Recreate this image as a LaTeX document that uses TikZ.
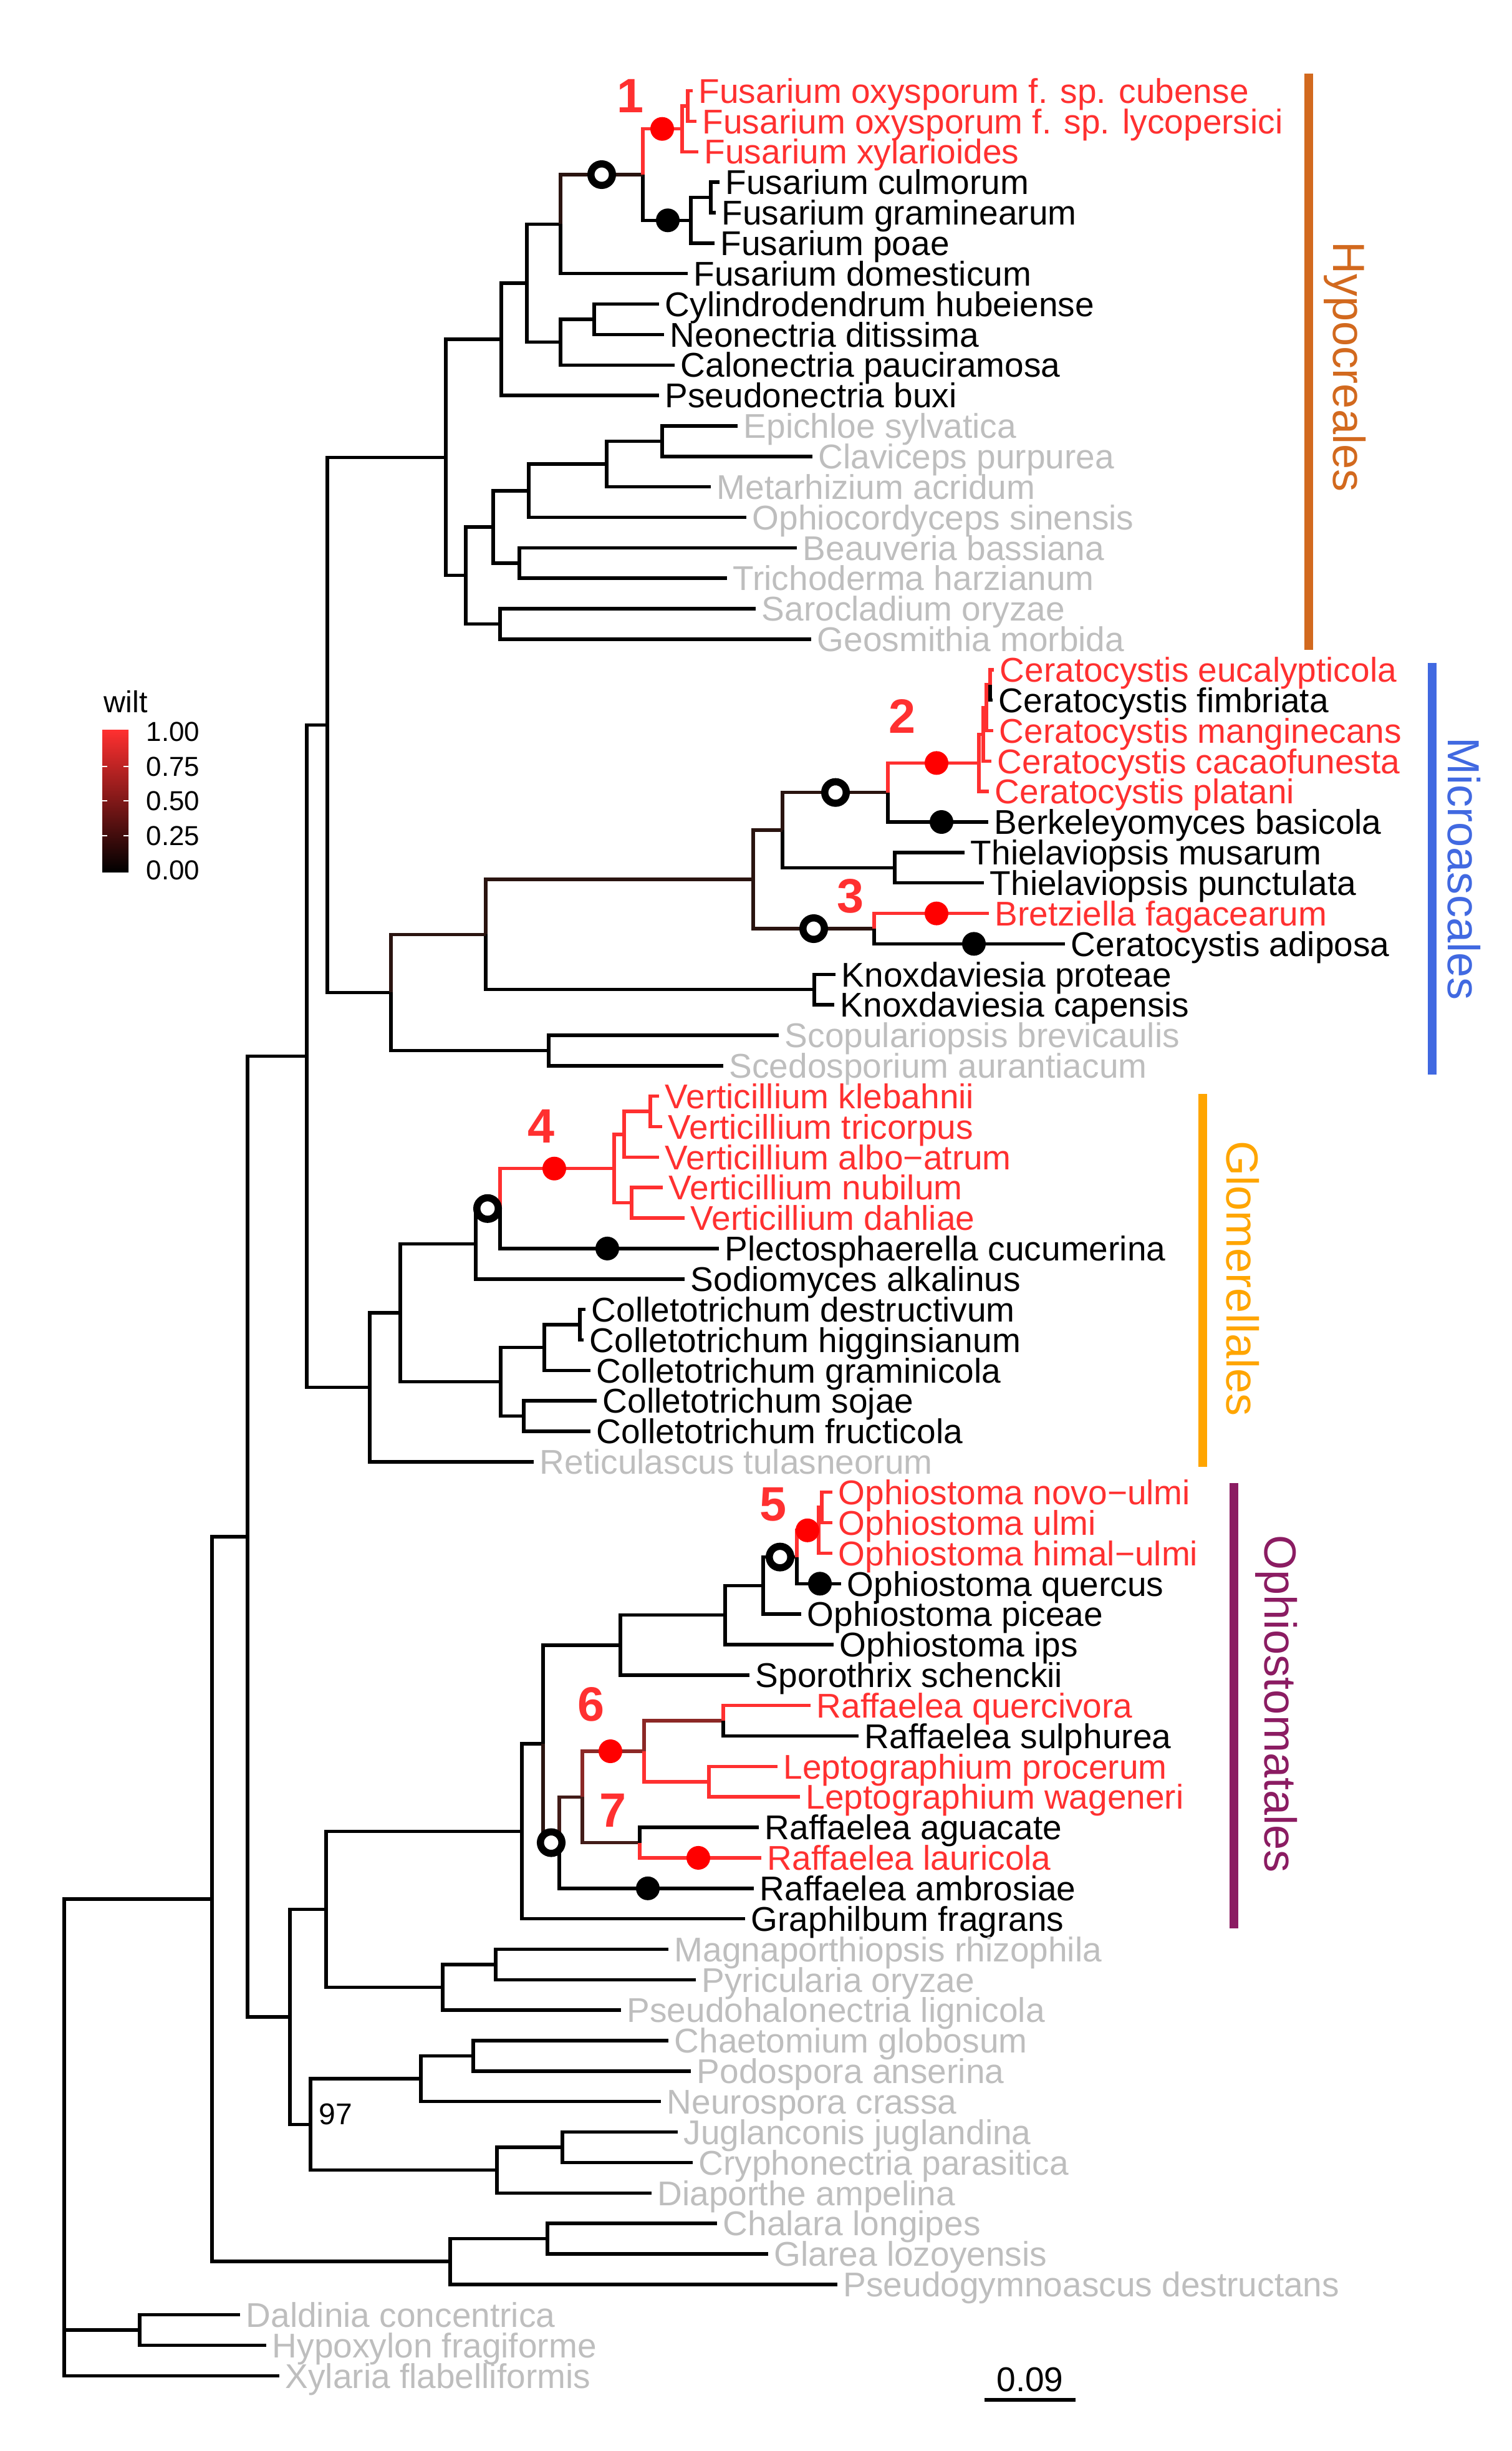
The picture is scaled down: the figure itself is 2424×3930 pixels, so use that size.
\documentclass[tikz,border=0pt]{standalone}
\usepackage{fontspec}
\setmainfont{Liberation Sans}
\definecolor{wred}{RGB}{255,48,48}
\definecolor{wdark}{RGB}{42,20,16}
\definecolor{wlow}{RGB}{66,28,24}
\definecolor{wmid}{RGB}{140,40,38}
\definecolor{wgrey}{RGB}{190,190,190}
\definecolor{hypo}{RGB}{210,105,30}
\definecolor{micro}{RGB}{65,105,225}
\definecolor{glom}{RGB}{255,165,0}
\definecolor{ophio}{RGB}{139,28,98}

\begin{document}
\begin{tikzpicture}[x=0.01cm,y=-0.01cm,line width=0.055cm]
\tikzstyle{every node}=[font=\fontsize{15.65}{18}\selectfont]
\tikzstyle{tiplab}=[anchor=west,inner xsep=0.07cm,inner ysep=0pt,text height=11.2pt,text depth=0pt]
\tikzstyle{ring}=[circle,draw=black,fill=white,line width=0.115cm,inner sep=0pt,minimum size=0.345cm]
\tikzstyle{blob}=[circle,inner sep=0pt,minimum size=0.38cm]
\tikzstyle{bignum}=[wred,font=\fontsize{22}{26}\selectfont\bfseries]
\tikzstyle{cladename}=[anchor=base,rotate=-90,font=\fontsize{20.5}{24}\selectfont]
\tikzstyle{cladebar}=[line width=0.14cm]
\tikzstyle{legtext}=[anchor=west,inner sep=0pt,font=\fontsize{12.5}{15}\selectfont,text height=8.95pt,text depth=0pt]
\useasboundingbox (0,0) rectangle (2424,3930);

% internal nodes
\coordinate (root) at (103,3408.9);
\coordinate (x0) at (103,3772.8);
\coordinate (x1) at (224,3736.1);
\coordinate (s0) at (340,3045);
\coordinate (s1) at (397,2463.8);
\coordinate (l0) at (722,3626.2);
\coordinate (l1) at (878,3589.6);
\coordinate (hmg) at (492,1693.5);
\coordinate (oms) at (465,3234);
\coordinate (hm) at (525,1162.4);
\coordinate (h0) at (715,733.4);
\coordinate (h1) at (804,544.1);
\coordinate (h2) at (845,454);
\coordinate (fall) at (899,359.4);
\coordinate (fopen) at (1031,280);
\coordinate (fox) at (1094,206.7);
\coordinate (fox2) at (1103,170.1);
\coordinate (fgr) at (1108,353.3);
\coordinate (fcg) at (1140,316.6);
\coordinate (nec) at (899,548.7);
\coordinate (nec2) at (953,512);
\coordinate (hg0) at (747,922.7);
\coordinate (hg1) at (791,844.8);
\coordinate (hg2) at (802,1000.5);
\coordinate (hg3) at (848,786.8);
\coordinate (hg4) at (833,902.8);
\coordinate (hg5) at (973,744.1);
\coordinate (hg6) at (1062,707.4);
\coordinate (m0) at (627,1591.4);
\coordinate (m1) at (779,1498.4);
\coordinate (m2) at (1208,1410);
\coordinate (m3) at (1255,1331);
\coordinate (m4) at (1402,1489);
\coordinate (m5) at (1424,1270.7);
\coordinate (cA) at (1570,1223.4);
\coordinate (cB) at (1577,1177.6);
\coordinate (cC) at (1582,1134.9);
\coordinate (cD) at (1588,1098.2);
\coordinate (thi) at (1435,1391.3);
\coordinate (knox) at (1306,1586.7);
\coordinate (msc) at (880,1684.4);
\coordinate (g0) at (593,2224.5);
\coordinate (g1) at (642,2105);
\coordinate (g2) at (763,1994.3);
\coordinate (g3) at (802,1937.8);
\coordinate (v0) at (985,1873.7);
\coordinate (v1) at (1001,1818.8);
\coordinate (v2) at (1013,1928.7);
\coordinate (v3) at (1043,1782.1);
\coordinate (c0) at (803,2215.7);
\coordinate (c1) at (873,2160.7);
\coordinate (c2) at (840,2270.6);
\coordinate (c3) at (930,2124.1);
\coordinate (om) at (523,3061.5);
\coordinate (op0) at (837,2936.4);
\coordinate (op1) at (871,2796.2);
\coordinate (op2) at (995,2637.8);
\coordinate (op3) at (1163,2589.7);
\coordinate (op4) at (1224,2542.4);
\coordinate (op5) at (1278,2496.6);
\coordinate (or1) at (1313,2453.8);
\coordinate (or2) at (1318,2417.2);
\coordinate (r0) at (897,2954.5);
\coordinate (r1) at (934,2881.3);
\coordinate (r2) at (1033,2808);
\coordinate (r3) at (1026,2954.5);
\coordinate (r4) at (1160,2759.1);
\coordinate (r5) at (1137,2856.8);
\coordinate (mg0) at (710,3186.6);
\coordinate (mg1) at (795,3149.9);
\coordinate (sd) at (498,3406.4);
\coordinate (so0) at (675,3333.1);
\coordinate (so1) at (759,3296.5);
\coordinate (dp0) at (797,3479.7);
\coordinate (dp1) at (902,3443);

% tips
\path node[tiplab,wred] (cub) at (1111,145.6) {Fusarium oxysporum f. sp. cubense};
\path node[tiplab,wred] (lyc) at (1117,194.5) {Fusarium oxysporum f. sp. lycopersici};
\path node[tiplab,wred] (xyl) at (1120,243.3) {Fusarium xylarioides};
\path node[tiplab] (cul) at (1154,292.2) {Fusarium culmorum};
\path node[tiplab] (gra) at (1148,341) {Fusarium graminearum};
\path node[tiplab] (poa) at (1146,389.9) {Fusarium poae};
\path node[tiplab] (dom) at (1103,438.7) {Fusarium domesticum};
\path node[tiplab] (cyl) at (1057,487.6) {Cylindrodendrum hubeiense};
\path node[tiplab] (neo) at (1065,536.4) {Neonectria ditissima};
\path node[tiplab] (cal) at (1082,585.3) {Calonectria pauciramosa};
\path node[tiplab] (psn) at (1057,634.1) {Pseudonectria buxi};
\path node[tiplab,wgrey] (epi) at (1183,683) {Epichloe sylvatica};
\path node[tiplab,wgrey] (cla) at (1303,731.8) {Claviceps purpurea};
\path node[tiplab,wgrey] (met) at (1140,780.7) {Metarhizium acridum};
\path node[tiplab,wgrey] (oph) at (1197,829.5) {Ophiocordyceps sinensis};
\path node[tiplab,wgrey] (bea) at (1278,878.4) {Beauveria bassiana};
\path node[tiplab,wgrey] (tri) at (1166,927.2) {Trichoderma harzianum};
\path node[tiplab,wgrey] (sar) at (1212,976.1) {Sarocladium oryzae};
\path node[tiplab,wgrey] (geo) at (1301,1024.9) {Geosmithia morbida};
\path node[tiplab,wred] (euc) at (1594,1073.8) {Ceratocystis eucalypticola};
\path node[tiplab] (fim) at (1592,1122.6) {Ceratocystis fimbriata};
\path node[tiplab,wred] (man) at (1593,1171.5) {Ceratocystis manginecans};
\path node[tiplab,wred] (cac) at (1590,1220.3) {Ceratocystis cacaofunesta};
\path node[tiplab,wred] (pla) at (1586,1269.2) {Ceratocystis platani};
\path node[tiplab] (ber) at (1585,1318) {Berkeleyomyces basicola};
\path node[tiplab] (mus) at (1547,1366.9) {Thielaviopsis musarum};
\path node[tiplab] (pun) at (1578,1415.7) {Thielaviopsis punctulata};
\path node[tiplab,wred] (bre) at (1586,1464.6) {Bretziella fagacearum};
\path node[tiplab] (adi) at (1708,1513.4) {Ceratocystis adiposa};
\path node[tiplab] (kpr) at (1340,1562.3) {Knoxdaviesia proteae};
\path node[tiplab] (kca) at (1338,1611.1) {Knoxdaviesia capensis};
\path node[tiplab,wgrey] (sco) at (1249,1660) {Scopulariopsis brevicaulis};
\path node[tiplab,wgrey] (sce) at (1160,1708.8) {Scedosporium aurantiacum};
\path node[tiplab,wred] (vkl) at (1057,1757.7) {Verticillium klebahnii};
\path node[tiplab,wred] (vtr) at (1062,1806.5) {Verticillium tricorpus};
\path node[tiplab,wred] (val) at (1057,1855.4) {Verticillium albo−atrum};
\path node[tiplab,wred] (vnu) at (1063,1904.2) {Verticillium nubilum};
\path node[tiplab,wred] (vda) at (1098,1953.1) {Verticillium dahliae};
\path node[tiplab] (ple) at (1153,2001.9) {Plectosphaerella cucumerina};
\path node[tiplab] (sod) at (1098,2050.8) {Sodiomyces alkalinus};
\path node[tiplab] (cde) at (939,2099.6) {Colletotrichum destructivum};
\path node[tiplab] (chi) at (936,2148.5) {Colletotrichum higginsianum};
\path node[tiplab] (cgr) at (947,2197.3) {Colletotrichum graminicola};
\path node[tiplab] (cso) at (957,2246.2) {Colletotrichum sojae};
\path node[tiplab] (cfr) at (947,2295) {Colletotrichum fructicola};
\path node[tiplab,wgrey] (ret) at (856,2343.9) {Reticulascus tulasneorum};
\path node[tiplab,wred] (onu) at (1335,2392.7) {Ophiostoma novo−ulmi};
\path node[tiplab,wred] (oul) at (1335,2441.6) {Ophiostoma ulmi};
\path node[tiplab,wred] (ohi) at (1335,2490.4) {Ophiostoma himal−ulmi};
\path node[tiplab] (oqu) at (1349,2539.3) {Ophiostoma quercus};
\path node[tiplab] (opi) at (1285,2588.1) {Ophiostoma piceae};
\path node[tiplab] (oip) at (1337,2637) {Ophiostoma ips};
\path node[tiplab] (ssc) at (1202,2685.8) {Sporothrix schenckii};
\path node[tiplab,wred] (rqu) at (1300,2734.7) {Raffaelea quercivora};
\path node[tiplab] (rsu) at (1377,2783.5) {Raffaelea sulphurea};
\path node[tiplab,wred] (lpr) at (1247,2832.4) {Leptographium procerum};
\path node[tiplab,wred] (lwa) at (1283,2881.2) {Leptographium wageneri};
\path node[tiplab] (rag) at (1217,2930.1) {Raffaelea aguacate};
\path node[tiplab,wred] (rla) at (1221,2978.9) {Raffaelea lauricola};
\path node[tiplab] (ram) at (1209,3027.8) {Raffaelea ambrosiae};
\path node[tiplab] (gfr) at (1195,3076.6) {Graphilbum fragrans};
\path node[tiplab,wgrey] (mrh) at (1072,3125.5) {Magnaporthiopsis rhizophila};
\path node[tiplab,wgrey] (pyr) at (1116,3174.3) {Pyricularia oryzae};
\path node[tiplab,wgrey] (phl) at (996,3223.2) {Pseudohalonectria lignicola};
\path node[tiplab,wgrey] (cgl) at (1072,3272) {Chaetomium globosum};
\path node[tiplab,wgrey] (pan) at (1108,3320.9) {Podospora anserina};
\path node[tiplab,wgrey] (ncr) at (1060,3369.7) {Neurospora crassa};
\path node[tiplab,wgrey] (jju) at (1087,3418.6) {Juglanconis juglandina};
\path node[tiplab,wgrey] (cpa) at (1111,3467.4) {Cryphonectria parasitica};
\path node[tiplab,wgrey] (dam) at (1045,3516.3) {Diaporthe ampelina};
\path node[tiplab,wgrey] (clo) at (1150,3565.1) {Chalara longipes};
\path node[tiplab,wgrey] (glo) at (1232,3614) {Glarea lozoyensis};
\path node[tiplab,wgrey] (pde) at (1343,3662.8) {Pseudogymnoascus destructans};
\path node[tiplab,wgrey] (dco) at (385,3711.7) {Daldinia concentrica};
\path node[tiplab,wgrey] (hfr) at (427,3760.5) {Hypoxylon fragiforme};
\path node[tiplab,wgrey] (xfl) at (448,3809.4) {Xylaria flabelliformis};

% branches, coloured by the child
\path[draw] (root) |- (s0) (root) |- (x0) (x0) |- (x1) (s0) |- (s1) (s0) |- (l0) (l0) |- (l1);
\path[draw] (s1) |- (hmg) (s1) |- (oms) (hmg) |- (hm) (hmg) |- (g0) (hm) |- (h0) (hm) |- (m0);
\path[draw] (h0) |- (h1) (h0) |- (hg0) (h1) |- (h2) (h2) |- (fall) (h2) |- (nec) (nec) |- (nec2);
\path[draw] (fopen) |- (fgr) (fgr) |- (fcg);
\path[draw] (hg0) |- (hg1) (hg0) |- (hg2) (hg1) |- (hg3) (hg1) |- (hg4) (hg3) |- (hg5) (hg5) |- (hg6);
\path[draw] (m0) |- (msc) (m1) |- (knox) (m3) |- (thi);
\path[draw] (g0) |- (g1) (g1) |- (g2) (g1) |- (c0) (g2) |- (g3) (c0) |- (c1) (c0) |- (c2) (c1) |- (c3);
\path[draw] (oms) |- (om) (oms) |- (sd) (om) |- (op0) (om) |- (mg0) (op0) |- (op1) (op1) |- (op2);
\path[draw] (op2) |- (op3) (op3) |- (op4) (op4) |- (op5) (mg0) |- (mg1);
\path[draw] (sd) |- (so0) (sd) |- (dp0) (so0) |- (so1) (dp0) |- (dp1);
\path[draw,wdark] (fall) |- (fopen) (m0) |- (m1) (m1) |- (m2) (m2) |- (m3) (m2) |- (m4) (m3) |- (m5) (op1) |- (r0);
\path[draw,wlow] (r0) |- (r1) (r1) |- (r3);
\path[draw,wmid] (r1) |- (r2) (r2) |- (r4);
\path[draw,wred] (fopen) |- (fox) (fox) |- (fox2) (m5) |- (cA) (cA) |- (cB) (cB) |- (cC) (cC) |- (cD);
\path[draw,wred] (g3) |- (v0) (v0) |- (v1) (v0) |- (v2) (v1) |- (v3) (op5) |- (or1) (or1) |- (or2) (r2) |- (r5);

\path[draw,wred] (fox2) |- (cub.west) (fox2) |- (lyc.west) (fox) |- (xyl.west);
\path[draw,wred] (cD) |- (euc.west) (cC) |- (man.west) (cB) |- (cac.west) (cA) |- (pla.west) (m4) |- (bre.west);
\path[draw,wred] (v3) |- (vkl.west) (v3) |- (vtr.west) (v1) |- (val.west) (v2) |- (vnu.west) (v2) |- (vda.west);
\path[draw,wred] (or2) |- (onu.west) (or2) |- (oul.west) (or1) |- (ohi.west) (r4) |- (rqu.west);
\path[draw,wred] (r5) |- (lpr.west) (r5) |- (lwa.west) (r3) |- (rla.west);
\path[draw] (fcg) |- (cul.west) (fcg) |- (gra.west) (fgr) |- (poa.west) (fall) |- (dom.west);
\path[draw] (nec2) |- (cyl.west) (nec2) |- (neo.west) (nec) |- (cal.west) (h1) |- (psn.west);
\path[draw] (hg6) |- (epi.west) (hg6) |- (cla.west) (hg5) |- (met.west) (hg3) |- (oph.west);
\path[draw] (hg4) |- (bea.west) (hg4) |- (tri.west) (hg2) |- (sar.west) (hg2) |- (geo.west);
\path[draw] (cD) |- (fim.west) (m5) |- (ber.west) (thi) |- (mus.west) (thi) |- (pun.west) (m4) |- (adi.west);
\path[draw] (knox) |- (kpr.west) (knox) |- (kca.west) (msc) |- (sco.west) (msc) |- (sce.west);
\path[draw] (g3) |- (ple.west) (g2) |- (sod.west) (c3) |- (cde.west) (c3) |- (chi.west) (c1) |- (cgr.west);
\path[draw] (c2) |- (cso.west) (c2) |- (cfr.west) (g0) |- (ret.west);
\path[draw] (op5) |- (oqu.west) (op4) |- (opi.west) (op3) |- (oip.west) (op2) |- (ssc.west);
\path[draw] (r4) |- (rsu.west) (r3) |- (rag.west) (r0) |- (ram.west) (op0) |- (gfr.west);
\path[draw] (mg1) |- (mrh.west) (mg1) |- (pyr.west) (mg0) |- (phl.west) (so1) |- (cgl.west) (so1) |- (pan.west);
\path[draw] (so0) |- (ncr.west) (dp1) |- (jju.west) (dp1) |- (cpa.west) (dp0) |- (dam.west);
\path[draw] (l1) |- (clo.west) (l1) |- (glo.west) (l0) |- (pde.west);
\path[draw] (x1) |- (dco.west) (x1) |- (hfr.west) (x0) |- (xfl.west);

% state changes
\path node[ring] (o1) at (965,280) {};
\path node[ring] (o2) at (1340,1270.7) {};
\path node[ring] (o3) at (1305,1489) {};
\path node[ring] (o4) at (782,1937.8) {};
\path node[ring] (o5) at (1251,2496.6) {};
\path node[ring] (o6) at (884,2954.5) {};
\path node[blob,fill=red] (p1) at (1062,206.7) {};
\path node[blob,fill=red] (p2) at (1502,1223.4) {};
\path node[blob,fill=red] (p3) at (1502,1464.6) {};
\path node[blob,fill=red] (p4) at (889,1873.7) {};
\path node[blob,fill=red] (p5) at (1295,2453.8) {};
\path node[blob,fill=red] (p6) at (979,2808) {};
\path node[blob,fill=red] (p7) at (1120,2978.9) {};
\path node[blob,fill=black] (q1) at (1071,353.3) {};
\path node[blob,fill=black] (q2) at (1510,1318) {};
\path node[blob,fill=black] (q3) at (1562,1513.4) {};
\path node[blob,fill=black] (q4) at (974,2001.9) {};
\path node[blob,fill=black] (q5) at (1315,2539.3) {};
\path node[blob,fill=black] (q6) at (1039,3027.8) {};
\path node[bignum] (n1) at (1011,154) {1};
\path node[bignum] (n2) at (1447,1148) {2};
\path node[bignum] (n3) at (1364,1437) {3};
\path node[bignum] (n4) at (868,1806) {4};
\path node[bignum] (n5) at (1240,2412) {5};
\path node[bignum] (n6) at (948,2733) {6};
\path node[bignum] (n7) at (983,2903) {7};
\path node[anchor=base west,inner sep=0pt,font=\fontsize{13.65}{16}\selectfont] (bs) at (509,3406) {97};

% orders
\path[draw,hypo,cladebar] (2099,118) -- (2099,1042);
\path node[cladename,hypo] (hyp) at (2138,588) {Hypocreales};
\path[draw,micro,cladebar] (2297,1063) -- (2297,1723);
\path node[cladename,micro] (mic) at (2322,1393) {Microascales};
\path[draw,glom,cladebar] (1929,1754) -- (1929,2352);
\path node[cladename,glom] (glm) at (1967,2050) {Glomerellales};
\path[draw,ophio,cladebar] (1979,2378) -- (1979,3092);
\path node[cladename,ophio] (oso) at (2028,2732) {Ophiostomatales};

% legend and scale
\path node[anchor=base west,inner sep=0pt,font=\fontsize{13.8}{16}\selectfont] (wilt) at (164,1142) {wilt};
\shade[top color=wred,bottom color=black] (164,1170) rectangle (206,1398);
\path[draw,white,line width=0.02cm] (164,1229) -- (172,1229) (198,1229) -- (206,1229);
\path[draw,white,line width=0.02cm] (164,1284) -- (172,1284) (198,1284) -- (206,1284);
\path[draw,white,line width=0.02cm] (164,1340) -- (172,1340) (198,1340) -- (206,1340);
\path node[legtext] (k1) at (232,1173) {1.00};
\path node[legtext] (k2) at (232,1229) {0.75};
\path node[legtext] (k3) at (232,1284) {0.50};
\path node[legtext] (k4) at (232,1340) {0.25};
\path node[legtext] (k5) at (232,1395) {0.00};
\coordinate (sbl) at (1579,3848);
\coordinate (sbr) at (1725,3848);
\path[draw] (sbl) -- (sbr);
\path node[anchor=base,inner sep=0pt] (sbt) at (1652,3834) {0.09};
\end{tikzpicture}
\end{document}
